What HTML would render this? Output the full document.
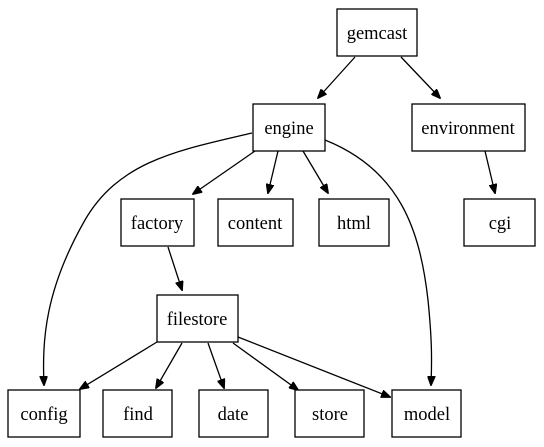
<!DOCTYPE html>
<html><head><style>
html,body{margin:0;padding:0;background:#fff;}
svg{display:block;}
text{font-family:"Liberation Serif",serif;font-size:18.5px;text-anchor:middle;}
rect{fill:#fff;stroke:#000;stroke-width:1.3;}
path{fill:none;stroke:#000;stroke-width:1.3;}
</style></head><body>
<svg width="544" height="447" viewBox="0 0 544 447">
<defs><marker id="a" markerWidth="10" markerHeight="8" refX="9" refY="4" orient="auto" markerUnits="userSpaceOnUse"><path d="M0,0 L10,4 L0,8 Z" style="fill:#000;stroke:#000;stroke-width:1"/></marker></defs>
<path d="M355,57 L318,98" marker-end="url(#a)"/>
<path d="M401,57 L440,98" marker-end="url(#a)"/>
<path d="M485,151 L495,193" marker-end="url(#a)"/>
<path d="M255,151 L193,194" marker-end="url(#a)"/>
<path d="M278,151 L268,193" marker-end="url(#a)"/>
<path d="M303,151 L328,193" marker-end="url(#a)"/>
<path d="M252,133 C180,150 120,160 85,220 C45,290 42,340 44,385" marker-end="url(#a)"/>
<path d="M325,140 C400,170 420,230 428,300 C432,340 432,360 431,385" marker-end="url(#a)"/>
<path d="M168,247 L182,290" marker-end="url(#a)"/>
<path d="M157,342 L80,389" marker-end="url(#a)"/>
<path d="M182,343 L156,388" marker-end="url(#a)"/>
<path d="M208,343 L224,388" marker-end="url(#a)"/>
<path d="M233,343 L298,390" marker-end="url(#a)"/>
<path d="M238,337 L390,397" marker-end="url(#a)"/>
<rect x="337" y="9" width="80" height="47"/><text x="377" y="39">gemcast</text>
<rect x="253" y="104" width="72" height="47"/><text x="289" y="134">engine</text>
<rect x="412" y="104" width="113" height="47"/><text x="468" y="134">environment</text>
<rect x="121" y="199" width="73" height="47"/><text x="157" y="229">factory</text>
<rect x="218" y="199" width="75" height="47"/><text x="255" y="229">content</text>
<rect x="319" y="199" width="70" height="47"/><text x="354" y="229">html</text>
<rect x="464" y="199" width="71" height="47"/><text x="500" y="229">cgi</text>
<rect x="157" y="295" width="81" height="47"/><text x="197" y="325">filestore</text>
<rect x="8" y="390" width="72" height="47"/><text x="44" y="420">config</text>
<rect x="103" y="390" width="69" height="47"/><text x="138" y="420">find</text>
<rect x="199" y="390" width="69" height="47"/><text x="233" y="420">date</text>
<rect x="295" y="390" width="69" height="47"/><text x="330" y="420">store</text>
<rect x="392" y="390" width="69" height="47"/><text x="427" y="420">model</text>
</svg>
</body></html>
